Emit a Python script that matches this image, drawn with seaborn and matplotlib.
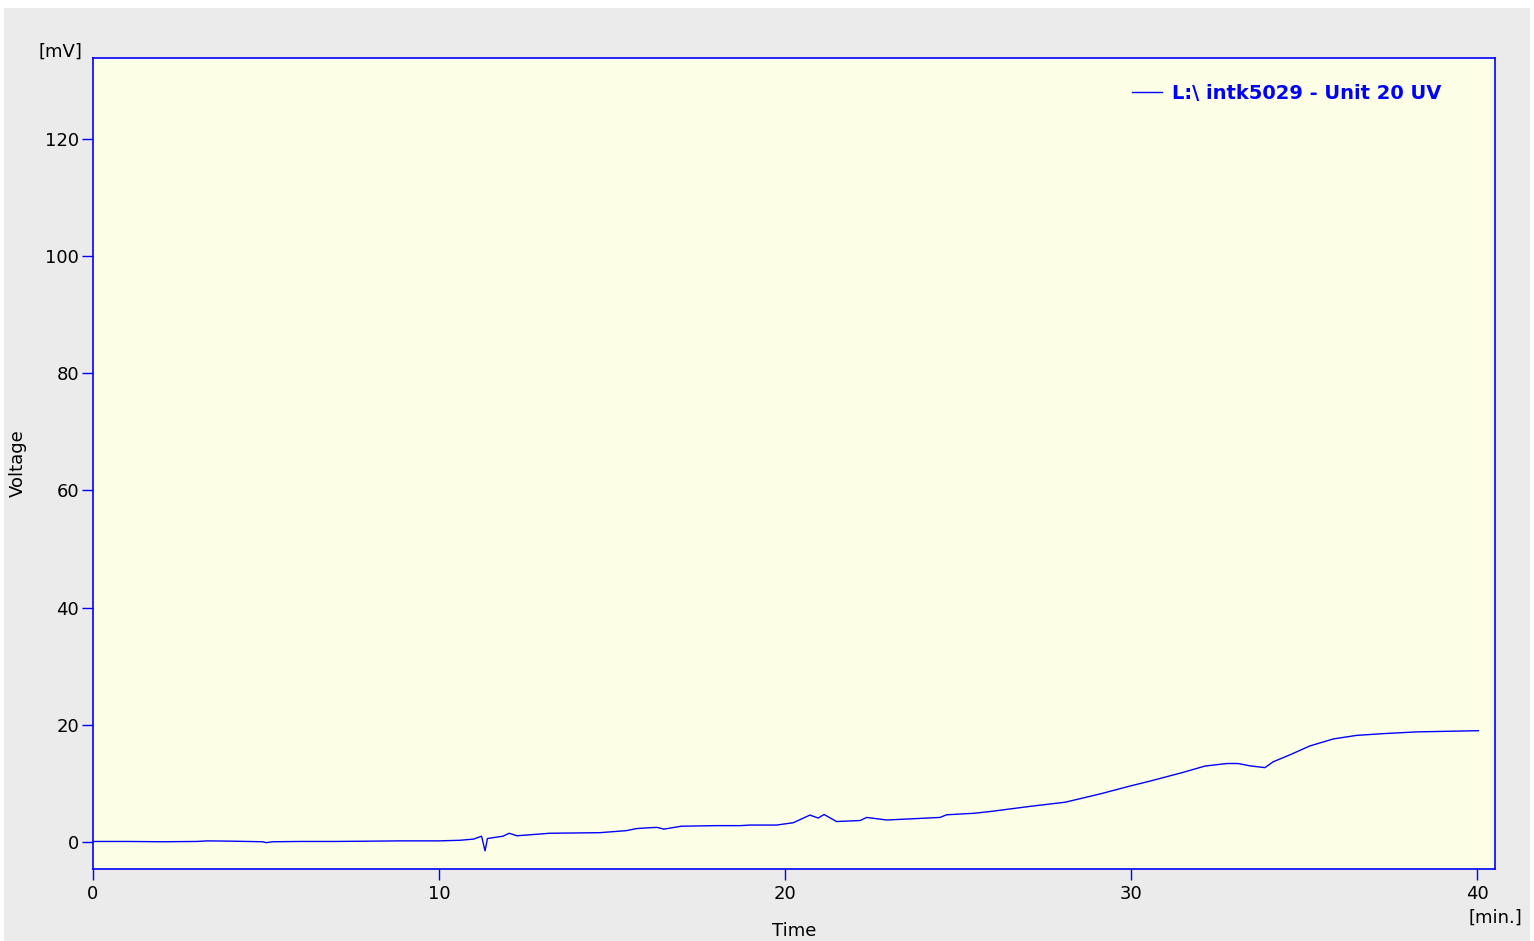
import matplotlib
matplotlib.use('Agg')
import pandas as pd
import seaborn as sns
from matplotlib import pyplot as plt
from matplotlib.patches import Rectangle

# chromatogram trace
time_min = [0.0, 1.0, 2.0, 3.0, 3.3, 4.0, 4.9, 5.0, 5.2, 6.0, 7.0, 8.0, 8.9, 10.0,
            10.6, 11.0, 11.23, 11.33, 11.4, 11.85, 12.03, 12.25, 13.2, 14.65,
            15.42, 15.71, 16.1, 16.3, 16.5, 17.0, 18.0, 18.7, 19.0, 19.76,
            20.24, 20.72, 20.96, 21.13, 21.49, 22.17, 22.36, 22.94, 24.48,
            24.67, 25.44, 25.92, 27.1, 28.1, 29.1, 30.0, 30.55, 31.51, 32.14,
            32.77, 33.1, 33.44, 33.87, 34.11, 34.6, 35.17, 35.85, 36.52,
            37.29, 38.26, 40.04]
voltage_mv = [0.1, 0.1, 0.05, 0.1, 0.2, 0.15, 0.05, -0.1, 0.05, 0.1, 0.1, 0.15, 0.2, 0.2,
              0.3, 0.5, 1.0, -1.5, 0.6, 1.0, 1.5, 1.07, 1.5, 1.6,
              1.95, 2.3, 2.45, 2.5, 2.2, 2.7, 2.8, 2.8, 2.9, 2.9,
              3.3, 4.6, 4.1, 4.7, 3.5, 3.67, 4.2, 3.76, 4.2,
              4.65, 4.9, 5.2, 6.1, 6.8, 8.2, 9.6, 10.4, 11.9, 12.97,
              13.4, 13.4, 13.0, 12.7, 13.7, 14.9, 16.4, 17.6, 18.2,
              18.5, 18.8, 19.0]
trace_name = "L:\\ intk5029 - Unit 20 UV"
x_ticks = [0, 10, 20, 30, 40]
y_ticks = [0, 20, 40, 60, 80, 100, 120]

df = pd.DataFrame({"Time": time_min, "Voltage": voltage_mv})

blue = "#0000ff"

fig = plt.figure(figsize=(15.34, 9.41), dpi=100, facecolor="white")
fig.patches.append(Rectangle((4 / 1534, 0), 1526 / 1534, 933 / 941,
                             transform=fig.transFigure, facecolor="#ebebeb",
                             edgecolor="none", zorder=-10))
ax = fig.add_axes([93 / 1534, 1 - 869 / 941, (1495 - 93) / 1534, (869 - 58) / 941])
ax.set_facecolor("#fdfee6")

sns.lineplot(data=df, x="Time", y="Voltage", ax=ax, color=blue,
             linewidth=1.0, label=trace_name)

ax.set_xlim(0, 40.52)
ax.set_ylim(-4.6, 133.8)
ax.set_xticks(x_ticks)
ax.set_yticks(y_ticks)
ax.tick_params(colors=blue, labelcolor="black", labelsize=13, length=8, width=1)
ax.tick_params(axis="y", pad=2)
for s in ax.spines.values():
    s.set_color(blue)
    s.set_linewidth(1.2)

ax.set_xlabel("Time", fontsize=13)
ax.set_ylabel("Voltage", fontsize=13)
ax.xaxis.set_label_coords(0.5, -0.065)
ax.yaxis.set_label_coords(-0.047, 0.5)
fig.text(60 / 1534, 1 - 52 / 941, "[mV]", fontsize=13, ha="center", va="center")
fig.text(1495 / 1534, 1 - 918 / 941, "[min.]", fontsize=13, ha="center", va="center")

leg = ax.legend(loc="upper right", frameon=False, fontsize=14,
                bbox_to_anchor=(0.974, 0.99), handlelength=1.55,
                handletextpad=0.5)
for t in leg.get_texts():
    t.set_color(blue)
    t.set_fontweight("bold")

plt.savefig("out.png", dpi=100, facecolor=fig.get_facecolor())
